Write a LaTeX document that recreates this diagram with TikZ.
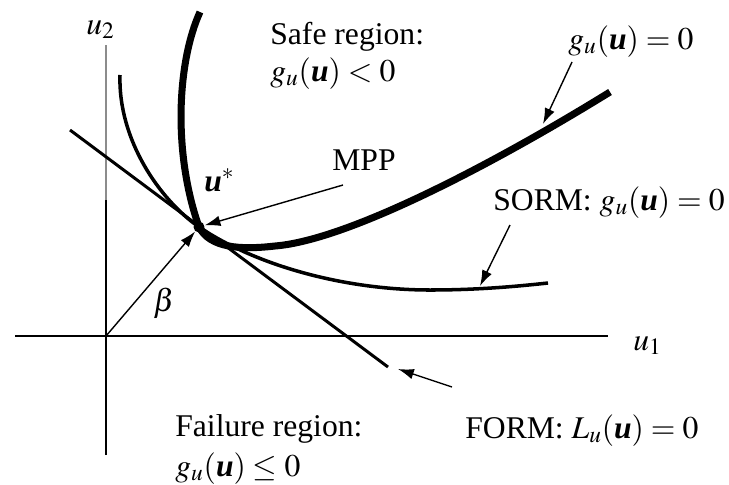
\documentclass[tikz,border=0pt]{standalone}
\usepackage{mathptmx}
\usepackage{fontspec}
\setmainfont{Liberation Serif}
\usetikzlibrary{arrows.meta,positioning}
\tikzset{
  axisline/.style={line width=0.9pt, color=#1},
  axisline/.default=black,
  limitcurve/.style={line width=#1},
  limitcurve/.default=2pt,
  callout/.style={-{Latex[length=9pt, width=6pt]}, line width=0.8pt},
  lbl/.style={font=\fontsize{18}{21}\selectfont, inner sep=0pt, anchor=base west},
}
\newcommand{\bu}{\mbox{\bfseries\itshape u}}

\begin{document}
\begin{tikzpicture}[x=0.02cm, y=-0.02cm]
\useasboundingbox (0,0) rectangle (729,484);
% axes
\coordinate (origin) at (106,336);
\coordinate (u1start) at (15,336);
\coordinate (u1end) at (608,336);
\coordinate (u2start) at (106,455);
\coordinate (u2mid) at (106,200);
\coordinate (u2end) at (106,45);
\draw[axisline] (u1start) -- (u1end);
\draw[axisline] (u2start) -- (u2mid);
\draw[axisline=black!45] (u2mid) -- (u2end);
\node[lbl] (u1) at (633,350) {$u_1$};
\node[lbl] (u2) at (86,34) {$u_2$};

% most probable point
\node[circle, fill, inner sep=0pt, minimum size=0.22cm] (mpp) at (199,227) {};

% limit-state curves
\draw[limitcurve=4pt] (200,12) .. controls (178,60) and (172,150) .. (mpp.center)
  .. controls (210,248) and (240,250) .. (275,246)
  .. controls (350,240) and (500,160) .. (610,92);
\draw[limitcurve=2pt] (120,75) .. controls (118,140) and (160,200) .. (mpp.center)
  .. controls (260,268) and (350,290) .. (430,290)
  .. controls (480,290) and (520,286) .. (548,283);
\coordinate (formA) at (70,130);
\coordinate (formB) at (388,367);
\draw[limitcurve=1.7pt] (formA) -- (formB);

% reliability index
\draw[callout] (origin) -- (mpp);
\node[lbl] (beta) at (153,311) {$\beta$};
\node[lbl] (ustar) at (204,191) {$\bu^{*}$};

% callouts
\coordinate (mpptail) at (343,185);
\coordinate (gtail) at (572,62);
\coordinate (gtip) at (543,124);
\coordinate (sormtail) at (510,225);
\coordinate (sormtip) at (480,286);
\coordinate (formtail) at (452,387);
\coordinate (formtip) at (398,369);
\draw[callout] (mpptail) -- (mpp);
\draw[callout] (gtail) -- (gtip);
\draw[callout] (sormtail) -- (sormtip);
\draw[callout] (formtail) -- (formtip);

% labels
\node[lbl] (safe1) at (270,44) {Safe region:};
\node[lbl] (safe2) at (270,81) {$g_u(\bu) < 0$};
\node[lbl] (glbl) at (568,49) {$g_u(\bu) = 0$};
\node[lbl] (mpplbl) at (332,170) {MPP};
\node[lbl] (sormlbl) at (493,210) {SORM: $g_u(\bu) = 0$};
\node[lbl] (formlbl) at (465,438) {FORM: $L_u(\bu) = 0$};
\node[lbl] (fail1) at (175,436) {Failure region:};
\node[lbl] (fail2) at (175,476) {$g_u(\bu) \le 0$};
\end{tikzpicture}
\end{document}
